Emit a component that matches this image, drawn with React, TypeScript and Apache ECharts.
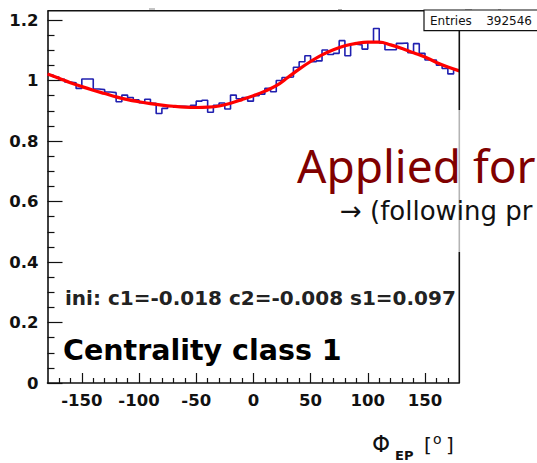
import React, { useEffect, useRef } from "react";
import * as echarts from "echarts";

// ---- data ----
const BIN_LOW = [
  -180, -175, -170, -165, -160, -155, -150, -145, -140, -135, -130, -125,
  -120, -115, -110, -105, -100, -95, -90, -85, -80, -75, -70, -65,
  -60, -55, -50, -45, -40, -35, -30, -25, -20, -15, -10, -5,
  0, 5, 10, 15, 20, 25, 30, 35, 40, 45, 50, 55,
  60, 65, 70, 75, 80, 85, 90, 95, 100, 105, 110, 115,
  120, 125, 130, 135, 140, 145, 150, 155, 160, 165, 170, 175,
];
const X_END = 180;
const HIST = [
  1.018, 1.012, 1.004, 0.995, 0.993, 0.974, 1.005, 1.005, 0.972, 0.970, 0.962, 0.960,
  0.930, 0.952, 0.944, 0.936, 0.927, 0.938, 0.925, 0.891, 0.908, 0.916, 0.912, 0.915,
  0.913, 0.918, 0.932, 0.935, 0.895, 0.918, 0.926, 0.906, 0.952, 0.940, 0.944, 0.932,
  0.950, 0.955, 0.974, 0.963, 1.000, 1.010, 1.012, 1.044, 1.062, 1.082, 1.062, 1.065,
  1.101, 1.086, 1.090, 1.132, 1.082, 1.120, 1.118, 1.104, 1.128, 1.172, 1.124, 1.102,
  1.102, 1.123, 1.124, 1.092, 1.122, 1.090, 1.068, 1.068, 1.051, 1.040, 1.022, 1.034,
];
const FIT_X = [
  -180, -170, -160, -150, -140, -130, -120, -110, -100, -90, -80, -70, -60,
  -50, -40, -30, -20, -10, 0, 10, 20, 30, 40, 50, 60, 70, 80, 90, 100,
  110, 120, 130, 140, 150, 160, 170, 180,
];
const FIT_Y = [
  1.022, 1.008, 0.993, 0.980, 0.968, 0.957, 0.946, 0.937, 0.930, 0.924, 0.919, 0.915, 0.912,
  0.911, 0.912, 0.916, 0.925, 0.937, 0.950, 0.965, 0.983, 1.010, 1.038, 1.063, 1.085, 1.102, 1.115, 1.123, 1.127,
  1.127, 1.118, 1.106, 1.092, 1.078, 1.060, 1.045, 1.032,
];
const Y_MAJOR = [0, 0.2, 0.4, 0.6, 0.8, 1, 1.2];
const Y_MINOR = [0.05, 0.1, 0.15, 0.25, 0.3, 0.35, 0.45, 0.5, 0.55, 0.65, 0.7, 0.75, 0.85, 0.9, 0.95, 1.05, 1.1, 1.15];
const X_MAJOR = [-150, -100, -50, 0, 50, 100, 150];
const X_MINOR = [-170, -160, -140, -130, -120, -110, -90, -80, -70, -60, -40, -30, -20, -10, 10, 20, 30, 40, 60, 70, 80, 90, 110, 120, 130, 140, 160, 170];

const ENTRIES_LABEL = "Entries";
const ENTRIES_VALUE = "392546";
const INI_TEXT = "ini: c1=-0.018 c2=-0.008 s1=0.097";
const CLASS_TEXT = "Centrality class 1";
const APPLIED_TEXT = "Applied for";
const FOLLOW_TEXT = "\u2192 (following pr";

export default function App() {
  const ref = useRef<HTMLDivElement>(null);
  useEffect(() => {
    document.body.style.margin = "0";
    const chart = echarts.init(ref.current!, null, { renderer: "svg" });
    const lab = {
      fontFamily: "DejaVu Sans",
      fontWeight: "bold" as const,
      fontSize: 16.5,
      color: "#111",
    };
    const histData: number[][] = BIN_LOW.map((x, i) => [x, HIST[i]]);
    histData.push([X_END, HIST[HIST.length - 1]]);
    const fitData = FIT_X.map((x, i) => [x, FIT_Y[i]]);
    const black = "#111";
    chart.setOption({
      animation: false,
      backgroundColor: "#fff",
      grid: { left: 47.5, right: 77.7, top: 11, bottom: 80 },
      xAxis: [
        {
          type: "value",
          min: -180,
          max: 180,
          position: "bottom",
          axisLine: { show: true, onZero: false, lineStyle: { color: black, width: 1.6 } },
          axisTick: { show: true, inside: true, length: 10, customValues: X_MAJOR, lineStyle: { color: black, width: 1.2 } },
          axisLabel: { ...lab, customValues: X_MAJOR, margin: 9 },
          splitLine: { show: false },
        },
        {
          type: "value",
          min: -180,
          max: 180,
          position: "bottom",
          axisLine: { show: false, onZero: false },
          axisTick: { show: true, inside: true, length: 5, customValues: X_MINOR, lineStyle: { color: black, width: 1.2 } },
          axisLabel: { show: false },
          splitLine: { show: false },
        },
      ],
      yAxis: [
        {
          type: "value",
          min: 0,
          max: 1.23,
          position: "left",
          axisLine: { show: true, onZero: false, lineStyle: { color: black, width: 1.6 } },
          axisTick: { show: true, inside: true, length: 15, customValues: Y_MAJOR, lineStyle: { color: black, width: 1.2 } },
          axisLabel: { ...lab, customValues: Y_MAJOR, margin: 9 },
          splitLine: { show: false },
        },
        {
          type: "value",
          min: 0,
          max: 1.23,
          position: "left",
          axisLine: { show: false, onZero: false },
          axisTick: { show: true, inside: true, length: 7, customValues: Y_MINOR, lineStyle: { color: black, width: 1.2 } },
          axisLabel: { show: false },
          splitLine: { show: false },
        },
      ],
      series: [
        {
          type: "line",
          xAxisIndex: 0,
          yAxisIndex: 0,
          step: "end",
          data: histData,
          showSymbol: false,
          symbol: "none",
          lineStyle: { color: "#2020b0", width: 1.6 },
          z: 2,
        },
        {
          type: "line",
          xAxisIndex: 0,
          yAxisIndex: 0,
          smooth: 0.4,
          data: fitData,
          showSymbol: false,
          symbol: "none",
          lineStyle: { color: "#ff0000", width: 3.2 },
          z: 3,
        },
      ],
      graphic: [
        // frame top & right
        { type: "line", shape: { x1: 47.5, y1: 10.8, x2: 424, y2: 10.8 }, style: { stroke: black, lineWidth: 1.6 }, z: 5 },
        { type: "line", shape: { x1: 459.3, y1: 31, x2: 459.3, y2: 110 }, style: { stroke: black, lineWidth: 1.6 }, z: 5 },
        { type: "line", shape: { x1: 459.3, y1: 110, x2: 459.3, y2: 252 }, style: { stroke: "#b4b4b4", lineWidth: 1.6 }, z: 5 },
        { type: "line", shape: { x1: 459.3, y1: 252, x2: 459.3, y2: 383 }, style: { stroke: black, lineWidth: 1.6 }, z: 5 },
        // faint marks above frame
        { type: "line", shape: { x1: 149, y1: 9, x2: 155, y2: 9 }, style: { stroke: "#888", lineWidth: 1 }, z: 5 },
        { type: "line", shape: { x1: 338, y1: 9.5, x2: 342, y2: 9.5 }, style: { stroke: "#aaa", lineWidth: 1 }, z: 5 },
        { type: "line", shape: { x1: 465, y1: 9.5, x2: 472, y2: 9.5 }, style: { stroke: "#bbb", lineWidth: 1 }, z: 5 },
        { type: "line", shape: { x1: 498, y1: 9.5, x2: 501, y2: 9.5 }, style: { stroke: "#bbb", lineWidth: 1 }, z: 5 },
        // entries box
        { type: "rect", shape: { x: 424, y: 10, width: 130, height: 20.7 }, style: { fill: "#fff", stroke: black, lineWidth: 1.2 }, z: 6 },
        { type: "text", x: 430, y: 20.5, style: { text: ENTRIES_LABEL, fontFamily: "DejaVu Sans", fontSize: 12, fill: "#111", verticalAlign: "middle", align: "left" }, z: 7 },
        { type: "text", x: 532, y: 20.5, style: { text: ENTRIES_VALUE, fontFamily: "DejaVu Sans", fontSize: 12, fill: "#111", verticalAlign: "middle", align: "right" }, z: 7 },
        // overlay texts
        { type: "text", x: 297, y: 165, style: { text: APPLIED_TEXT, fontFamily: "Noto Sans", fontSize: 46, fill: "#800000", verticalAlign: "middle", align: "left" }, z: 8 },
        { type: "text", x: 340, y: 211, style: { text: FOLLOW_TEXT, fontFamily: "DejaVu Sans", fontSize: 26, fill: "#111", verticalAlign: "middle", align: "left" }, z: 8 },
        { type: "text", x: 65, y: 298, style: { text: INI_TEXT, fontFamily: "DejaVu Sans", fontWeight: "bold", fontSize: 20, fill: "#222", verticalAlign: "middle", align: "left" }, z: 8 },
        { type: "text", x: 63, y: 350, style: { text: CLASS_TEXT, fontFamily: "DejaVu Sans", fontWeight: "bold", fontSize: 28.5, fill: "#000", verticalAlign: "middle", align: "left" }, z: 8 },
        // axis title
        { type: "text", x: 372, y: 444, style: { text: "\u03A6", fontFamily: "DejaVu Sans", fontSize: 23, fill: "#111", verticalAlign: "middle", align: "left" }, z: 8 },
        { type: "text", x: 395, y: 455, style: { text: "EP", fontFamily: "DejaVu Sans", fontWeight: "bold", fontSize: 13, fill: "#111", verticalAlign: "middle", align: "left" }, z: 8 },
        { type: "text", x: 424, y: 445, style: { text: "[", fontFamily: "DejaVu Sans", fontSize: 20, fill: "#111", verticalAlign: "middle", align: "left" }, z: 8 },
        { type: "text", x: 433, y: 439, style: { text: "o", fontFamily: "DejaVu Sans", fontSize: 14, fill: "#111", verticalAlign: "middle", align: "left" }, z: 8 },
        { type: "text", x: 446, y: 445, style: { text: "]", fontFamily: "DejaVu Sans", fontSize: 20, fill: "#111", verticalAlign: "middle", align: "left" }, z: 8 },
      ],
    });
    return () => chart.dispose();
  }, []);
  return <div ref={ref} style={{ width: 537, height: 463 }} />;
}
